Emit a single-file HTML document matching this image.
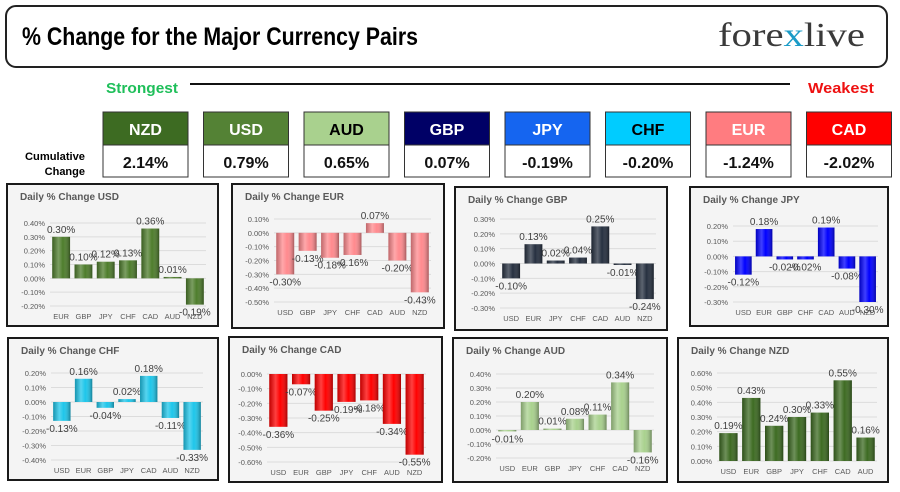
<!DOCTYPE html>
<html><head><meta charset="utf-8">
<style>
html,body{margin:0;padding:0;background:#fff;}
svg{display:block;font-family:"Liberation Sans",sans-serif;}
</style></head>
<body>
<svg id="root" width="900" height="492" viewBox="0 0 900 492">
<defs>
<linearGradient id="cyl" x1="0" x2="1" y1="0" y2="0">
<stop offset="0" stop-color="#000" stop-opacity="0.25"/>
<stop offset="0.35" stop-color="#fff" stop-opacity="0.25"/>
<stop offset="0.6" stop-color="#fff" stop-opacity="0"/>
<stop offset="1" stop-color="#000" stop-opacity="0.35"/>
</linearGradient>
</defs>
<g>
<rect x="6" y="6" width="881" height="61" rx="10" fill="#fff" stroke="#222" stroke-width="2"/>
<text x="22" y="45" font-size="25" font-weight="bold" fill="#000" textLength="396" lengthAdjust="spacingAndGlyphs">% Change for the Major Currency Pairs</text>
<text x="718" y="46" font-family="Liberation Serif,serif" font-size="34" fill="#3a3a3a" textLength="147" lengthAdjust="spacingAndGlyphs">fore<tspan fill="#1a9bc7">x</tspan>live</text>
</g>
<text x="106" y="93" font-size="15" font-weight="bold" fill="#1fbf5a" textLength="72" lengthAdjust="spacingAndGlyphs">Strongest</text>
<line x1="190" y1="84" x2="790" y2="84" stroke="#111" stroke-width="2"/>
<text x="808" y="93" font-size="15" font-weight="bold" fill="#ee1111" textLength="66" lengthAdjust="spacingAndGlyphs">Weakest</text>
<text x="85" y="160" font-size="11" font-weight="bold" text-anchor="end" textLength="60" lengthAdjust="spacingAndGlyphs">Cumulative</text>
<text x="85" y="175" font-size="11" font-weight="bold" text-anchor="end">Change</text>
<g id="boxes"></g>
<g id="charts"></g>
</svg>
<script>
var NS="http://www.w3.org/2000/svg";
function mk(tag,attrs,parent){var e=document.createElementNS(NS,tag);for(var k in attrs)e.setAttribute(k,attrs[k]);parent.appendChild(e);return e;}

// Currency strength boxes
var boxCurrencies=["NZD","USD","AUD","GBP","JPY","CHF","EUR","CAD"];
var boxValues=["2.14%","0.79%","0.65%","0.07%","-0.19%","-0.20%","-1.24%","-2.02%"];
var boxFill=["#3d6b22","#548235","#a9d18e","#000066","#1565f0","#00ccff","#ff7c80","#ff0000"];
var boxText=["#fff","#fff","#000","#fff","#fff","#000","#fff","#fff"];
var boxes=document.getElementById("boxes");
for(var i=0;i<boxCurrencies.length;i++){
  var bx=103+i*100.5;
  var g=mk("g",{},boxes);
  
  
  mk("rect",{x:bx,y:112,width:85,height:33,fill:boxFill[i],stroke:"#333","stroke-width":1},g);
  mk("rect",{x:bx,y:145,width:85,height:32,fill:"#fff",stroke:"#333","stroke-width":1},g);
  var t=mk("text",{x:bx+42.5,y:135,"text-anchor":"middle","font-size":16,"font-weight":"bold",fill:boxText[i]},g);
  t.textContent=boxCurrencies[i];
  var v=mk("text",{x:bx+42.5,y:168,"text-anchor":"middle","font-size":16,"font-weight":"bold",fill:"#111"},g);
  v.textContent=boxValues[i];
}

// Chart data
var usdCats=["EUR","GBP","JPY","CHF","CAD","AUD","NZD"];
var usdVals=[0.30,0.10,0.12,0.13,0.36,0.01,-0.19];
var usdTicks=[0.40,0.30,0.20,0.10,0.00,-0.10,-0.20];
var eurCats=["USD","GBP","JPY","CHF","CAD","AUD","NZD"];
var eurVals=[-0.30,-0.13,-0.18,-0.16,0.07,-0.20,-0.43];
var eurTicks=[0.10,0.00,-0.10,-0.20,-0.30,-0.40,-0.50];
var gbpCats=["USD","EUR","JPY","CHF","CAD","AUD","NZD"];
var gbpVals=[-0.10,0.13,0.02,0.04,0.25,-0.01,-0.24];
var gbpTicks=[0.30,0.20,0.10,0.00,-0.10,-0.20,-0.30];
var jpyCats=["USD","EUR","GBP","CHF","CAD","AUD","NZD"];
var jpyVals=[-0.12,0.18,-0.02,-0.02,0.19,-0.08,-0.30];
var jpyTicks=[0.20,0.10,0.00,-0.10,-0.20,-0.30];
var chfCats=["USD","EUR","GBP","JPY","CAD","AUD","NZD"];
var chfVals=[-0.13,0.16,-0.04,0.02,0.18,-0.11,-0.33];
var chfTicks=[0.20,0.10,0.00,-0.10,-0.20,-0.30,-0.40];
var cadCats=["USD","EUR","GBP","JPY","CHF","AUD","NZD"];
var cadVals=[-0.36,-0.07,-0.25,-0.19,-0.18,-0.34,-0.55];
var cadTicks=[0.00,-0.10,-0.20,-0.30,-0.40,-0.50,-0.60];
var audCats=["USD","EUR","GBP","JPY","CHF","CAD","NZD"];
var audVals=[-0.01,0.20,0.01,0.08,0.11,0.34,-0.16];
var audTicks=[0.40,0.30,0.20,0.10,0.00,-0.10,-0.20];
var nzdCats=["USD","EUR","GBP","JPY","CHF","CAD","AUD"];
var nzdVals=[0.19,0.43,0.24,0.30,0.33,0.55,0.16];
var nzdTicks=[0.60,0.50,0.40,0.30,0.20,0.10,0.00];

var charts=document.getElementById("charts");
function drawChart(name,title,px,py,pw,ph,left,right,top,bottom,cats,vals,ticks,color){
  var g=mk("g",{},charts);
  
  
  mk("rect",{x:px,y:py,width:pw,height:ph,fill:"#f4f4f4",stroke:"#1a1a1a","stroke-width":2},g);
  var tt=mk("text",{x:px+13,y:py+16,"font-size":10,"font-weight":"bold",fill:"#595959"},g);
  
  
  tt.textContent=title;
  var tmax=ticks[0],tmin=ticks[ticks.length-1];
  function y(v){return top+(tmax-v)/(tmax-tmin)*(bottom-top);}
  var band=(right-left)/cats.length;
  function xc(i){return left+band*(i+0.5);}
  for(var k=0;k<ticks.length;k++){
    var gy=y(ticks[k]);
    var gl=mk("line",{x1:left,x2:right,y1:gy,y2:gy,stroke:"#dcdcdc","stroke-width":1},g);
    
    
    var tl=mk("text",{x:left-5,y:gy+3,"text-anchor":"end","font-size":7.5,fill:"#595959"},g);
    
    
    tl.textContent=ticks[k].toFixed(2)+"%";
  }
  var bw=band*0.8;
  for(var i=0;i<cats.length;i++){
    var v=vals[i],y0=y(0),y1=y(v);
    var ry=Math.min(y0,y1),rh=Math.max(Math.abs(y1-y0),1);
    var b=mk("rect",{x:xc(i)-bw/2,y:ry,width:bw,height:rh,fill:color},g);
    
    
    mk("rect",{x:xc(i)-bw/2,y:ry,width:bw,height:rh,fill:"url(#cyl)"},g);
    var ly=v>=0?y1-4:y1+11;
    var dl=mk("text",{x:xc(i),y:ly,"text-anchor":"middle","font-size":10,fill:"#404040"},g);
    
    
    dl.textContent=v.toFixed(2)+"%";
    var cl=mk("text",{x:xc(i),y:bottom+13,"text-anchor":"middle","font-size":7.5,fill:"#595959"},g);
    
    
    cl.textContent=cats[i];
  }
}
drawChart("usd","Daily % Change USD",7,184,211,142,50,206,223,306,usdCats,usdVals,usdTicks,"#4e7d2c");
drawChart("eur","Daily % Change EUR",232,184,212,144,274,431,219,302,eurCats,eurVals,eurTicks,"#ff8a8e");
drawChart("gbp","Daily % Change GBP",455,187,212,143,500,656,219,308,gbpCats,gbpVals,gbpTicks,"#263040");
drawChart("jpy","Daily % Change JPY",690,187,198,139,733,878,226,302,jpyCats,jpyVals,jpyTicks,"#0000ff");
drawChart("chf","Daily % Change CHF",8,338,210,142,51,203,373,460,chfCats,chfVals,chfTicks,"#1ec6ea");
drawChart("cad","Daily % Change CAD",229,337,213,145,267,426,374,462,cadCats,cadVals,cadTicks,"#ff0000");
drawChart("aud","Daily % Change AUD",453,338,214,144,496,654,374,458,audCats,audVals,audTicks,"#a9d18e");
drawChart("nzd","Daily % Change NZD",678,338,210,144,717,877,373,461,nzdCats,nzdVals,nzdTicks,"#3d6b22");
</script>
</body></html>
